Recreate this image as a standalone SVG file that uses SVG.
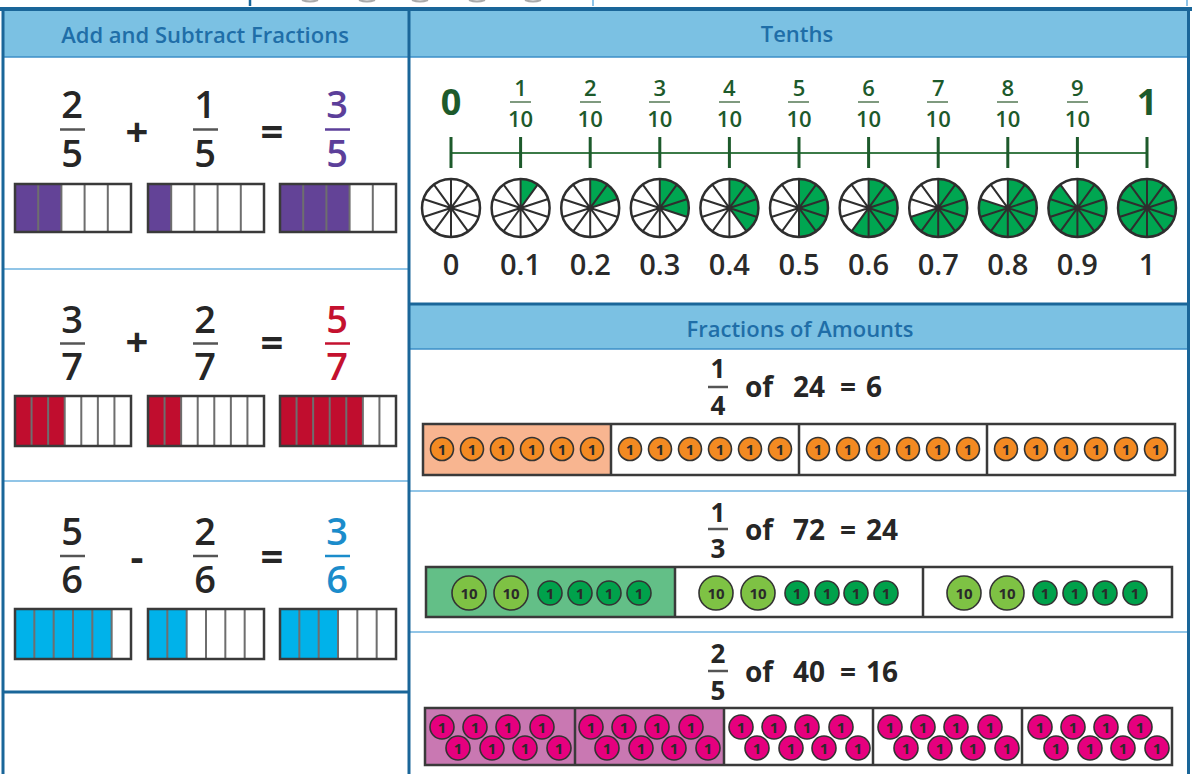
<svg xmlns="http://www.w3.org/2000/svg" xmlns:xlink="http://www.w3.org/1999/xlink" width="1192" height="774" viewBox="0 0 1192 774">
<style>
text{font-family:"Open Sans","Noto Sans","Liberation Sans",sans-serif}
.hd{fill:#7bc1e3}
.hdt{font-size:22px;font-weight:600;fill:#1f6ea8;text-anchor:middle}
.big{font-size:38px;font-weight:600;fill:#262626;text-anchor:middle}
.op{font-size:40px;font-weight:700;fill:#262626;text-anchor:middle}
.fb{stroke:#555;stroke-width:2.5}
.bo{fill:none;stroke:#3a3a3a;stroke-width:2.5}
.dv{fill:none;stroke:#6e6e6e;stroke-width:2}
.tf{font-size:22px;font-weight:600;fill:#1d5a2b;text-anchor:middle}
.tb{font-size:36px;font-weight:700;fill:#1d5a2b;text-anchor:middle}
.dec{font-size:29px;font-weight:600;fill:#2a2a2a;text-anchor:middle}
.af{font-size:26px;font-weight:700;fill:#262626;text-anchor:middle}
.at{font-size:28px;font-weight:700;fill:#262626}
.ct{font-size:15px;font-weight:700;fill:#2a2a2a;text-anchor:middle}
.cs{stroke:#333;stroke-width:1.6}
</style>
<defs>
<g id="wheel" fill="none" stroke="#2e2e2e" stroke-width="2">
<path d="M0,-29V29M17.05,-23.46L-17.05,23.46M27.58,-8.96L-27.58,8.96M27.58,8.96L-27.58,-8.96M17.05,23.46L-17.05,-23.46"/>
<circle r="29" stroke-width="2.5"/>
<circle r="2" fill="#2e2e2e" stroke="none"/>
</g>
<g id="co"><circle r="11.5" fill="#f38a22" class="cs"/><text y="5.5" class="ct">1</text></g>
<g id="cg"><circle r="12" fill="#00a14b" class="cs"/><text y="5.5" class="ct">1</text></g>
<g id="ct"><circle r="17" fill="#7ec244" class="cs"/><text y="5.5" class="ct">10</text></g>
<g id="cp"><circle r="12" fill="#e6007e" class="cs"/><text y="5.5" class="ct">1</text></g>
</defs>
<rect width="1192" height="774" fill="#fff"/>

<!-- top strip remnants -->
<g id="top-strip">
<path d="M250,0V6" stroke="#1a6699" stroke-width="2.5"/>
<path d="M593,0V6" stroke="#6ab0e0" stroke-width="1.5"/>
<path d="M1187,0V6" stroke="#6ab0e0" stroke-width="1.5"/>
<g fill="none" stroke="#aaa" stroke-width="2">
<path d="M302,0Q310,3 318,0M359,0Q367,3 375,0M412,0Q420,3 428,0M469,0Q477,3 485,0M525,0Q533,3 541,0"/>
</g>
<rect x="0" y="7" width="1192" height="4" fill="#1a6699"/>
</g>

<!-- panel frames -->
<g id="frames">
<rect class="hd" x="4" y="11" width="404" height="46"/>
<rect class="hd" x="410" y="11" width="777" height="46"/>
<rect class="hd" x="410" y="305" width="777" height="44"/>
<path d="M4,57H408M410,57H1187M410,349H1187" stroke="#3d8fc8" stroke-width="1.5"/>
<path d="M4,269H408M4,481H408M410,491H1187M410,632H1187" stroke="#6db3e0" stroke-width="1.5"/>
<path d="M4,692H408M410,304H1187" stroke="#1a6699" stroke-width="3"/>
<path d="M3,9V774M409,9V774M1188.5,9V774" stroke="#1a6699" stroke-width="3"/>
</g>

<!-- Add and Subtract Fractions -->
<g id="add-subtract">
<text class="hdt" x="205" y="43">Add and Subtract Fractions</text>

<g id="row-2-5">
<text class="big" x="72" y="118">2</text><path class="fb" d="M60,129.5H85"/><text class="big" x="72" y="167">5</text>
<text class="op" x="137" y="146">+</text>
<text class="big" x="205" y="118">1</text><path class="fb" d="M193,129.5H218"/><text class="big" x="205" y="167">5</text>
<text class="op" x="272" y="146">=</text>
<text class="big" x="337" y="118" style="fill:#5c3f9a">3</text><path d="M325,129.5H350" stroke="#5c3f9a" stroke-width="2.5"/><text class="big" x="337" y="167" style="fill:#5c3f9a">5</text>
<rect x="15" y="184" width="46.4" height="48" fill="#634397"/>
<path class="dv" d="M38.2,184V232M61.4,184V232M84.6,184V232M107.8,184V232"/>
<rect class="bo" x="15" y="184" width="116" height="48"/>
<rect x="148" y="184" width="23.2" height="48" fill="#634397"/>
<path class="dv" d="M171.2,184V232M194.4,184V232M217.6,184V232M240.8,184V232"/>
<rect class="bo" x="148" y="184" width="116" height="48"/>
<rect x="280" y="184" width="69.6" height="48" fill="#634397"/>
<path class="dv" d="M303.2,184V232M326.4,184V232M349.6,184V232M372.8,184V232"/>
<rect class="bo" x="280" y="184" width="116" height="48"/>
</g>

<g id="row-3-7">
<text class="big" x="72" y="333">3</text><path class="fb" d="M60,343.5H85"/><text class="big" x="72" y="380">7</text>
<text class="op" x="137" y="356">+</text>
<text class="big" x="205" y="333">2</text><path class="fb" d="M193,343.5H218"/><text class="big" x="205" y="380">7</text>
<text class="op" x="272" y="357">=</text>
<text class="big" x="337" y="333" style="fill:#c4112f">5</text><path d="M325,343.5H350" stroke="#c4112f" stroke-width="2.5"/><text class="big" x="337" y="380" style="fill:#c4112f">7</text>
<rect x="15" y="396" width="49.71" height="50" fill="#c00d2e"/>
<path class="dv" d="M31.57,396V446M48.14,396V446M64.71,396V446M81.29,396V446M97.86,396V446M114.43,396V446"/>
<rect class="bo" x="15" y="396" width="116" height="50"/>
<rect x="148" y="396" width="33.14" height="50" fill="#c00d2e"/>
<path class="dv" d="M164.57,396V446M181.14,396V446M197.71,396V446M214.29,396V446M230.86,396V446M247.43,396V446"/>
<rect class="bo" x="148" y="396" width="116" height="50"/>
<rect x="280" y="396" width="82.86" height="50" fill="#c00d2e"/>
<path class="dv" d="M296.57,396V446M313.14,396V446M329.71,396V446M346.29,396V446M362.86,396V446M379.43,396V446"/>
<rect class="bo" x="280" y="396" width="116" height="50"/>
</g>

<g id="row-5-6">
<text class="big" x="72" y="545">5</text><path class="fb" d="M60,556H85"/><text class="big" x="72" y="593">6</text>
<text class="op" x="137" y="571">-</text>
<text class="big" x="205" y="545">2</text><path class="fb" d="M193,556H218"/><text class="big" x="205" y="593">6</text>
<text class="op" x="272" y="571">=</text>
<text class="big" x="337" y="545" style="fill:#1b8ccb">3</text><path d="M325,556H350" stroke="#1b8ccb" stroke-width="2.5"/><text class="big" x="337" y="593" style="fill:#1b8ccb">6</text>
<rect x="15" y="609" width="96.67" height="50" fill="#00b2ea"/>
<path class="dv" d="M34.33,609V659M53.67,609V659M73,609V659M92.33,609V659M111.67,609V659"/>
<rect class="bo" x="15" y="609" width="116" height="50"/>
<rect x="148" y="609" width="38.67" height="50" fill="#00b2ea"/>
<path class="dv" d="M167.33,609V659M186.67,609V659M206,609V659M225.33,609V659M244.67,609V659"/>
<rect class="bo" x="148" y="609" width="116" height="50"/>
<rect x="280" y="609" width="58" height="50" fill="#00b2ea"/>
<path class="dv" d="M299.33,609V659M318.67,609V659M338,609V659M357.33,609V659M376.67,609V659"/>
<rect class="bo" x="280" y="609" width="116" height="50"/>
</g>
</g>

<!-- Tenths -->
<g id="tenths">
<text class="hdt" x="797" y="42">Tenths</text>
<g id="numberline" stroke="#1d5a2b">
<path d="M451,153H1147" stroke="#3b7a47" stroke-width="2"/>
<path d="M451,137V168M520.6,137V168M590.2,137V168M659.8,137V168M729.4,137V168M799,137V168M868.6,137V168M938.2,137V168M1007.8,137V168M1077.4,137V168M1147,137V168" stroke-width="3"/>
</g>
<g id="tenth-labels">
<text class="tb" x="451" y="115">0</text>
<text class="tb" x="1147" y="115">1</text>
<g stroke="#7f9a7f" stroke-width="2">
<path d="M510,102H531M580,102H601M649,102H670M719,102H740M788,102H809M858,102H879M927,102H948M997,102H1018M1067,102H1088"/>
</g>
<text class="tf" x="520.6" y="96">1</text><text class="tf" x="520.6" y="127">10</text>
<text class="tf" x="590.2" y="96">2</text><text class="tf" x="590.2" y="127">10</text>
<text class="tf" x="659.8" y="96">3</text><text class="tf" x="659.8" y="127">10</text>
<text class="tf" x="729.4" y="96">4</text><text class="tf" x="729.4" y="127">10</text>
<text class="tf" x="799" y="96">5</text><text class="tf" x="799" y="127">10</text>
<text class="tf" x="868.6" y="96">6</text><text class="tf" x="868.6" y="127">10</text>
<text class="tf" x="938.2" y="96">7</text><text class="tf" x="938.2" y="127">10</text>
<text class="tf" x="1007.8" y="96">8</text><text class="tf" x="1007.8" y="127">10</text>
<text class="tf" x="1077.4" y="96">9</text><text class="tf" x="1077.4" y="127">10</text>
</g>
<g id="wheels" fill="#00a651">
<g transform="translate(451,208)"><use href="#wheel"/></g>
<g transform="translate(520.6,208)"><path d="M0,0V-29A29,29 0 0,1 17.05,-23.46Z"/><use href="#wheel"/></g>
<g transform="translate(590.2,208)"><path d="M0,0V-29A29,29 0 0,1 27.58,-8.96Z"/><use href="#wheel"/></g>
<g transform="translate(659.8,208)"><path d="M0,0V-29A29,29 0 0,1 27.58,8.96Z"/><use href="#wheel"/></g>
<g transform="translate(729.4,208)"><path d="M0,0V-29A29,29 0 0,1 17.05,23.46Z"/><use href="#wheel"/></g>
<g transform="translate(799,208)"><path d="M0,0V-29A29,29 0 0,1 0,29Z"/><use href="#wheel"/></g>
<g transform="translate(868.6,208)"><path d="M0,0V-29A29,29 0 1,1 -17.05,23.46Z"/><use href="#wheel"/></g>
<g transform="translate(938.2,208)"><path d="M0,0V-29A29,29 0 1,1 -27.58,8.96Z"/><use href="#wheel"/></g>
<g transform="translate(1007.8,208)"><path d="M0,0V-29A29,29 0 1,1 -27.58,-8.96Z"/><use href="#wheel"/></g>
<g transform="translate(1077.4,208)"><path d="M0,0V-29A29,29 0 1,1 -17.05,-23.46Z"/><use href="#wheel"/></g>
<g transform="translate(1147,208)"><circle r="29"/><use href="#wheel"/></g>
</g>
<g id="decimals">
<text class="dec" x="451" y="275">0</text>
<text class="dec" x="520.6" y="275">0.1</text>
<text class="dec" x="590.2" y="275">0.2</text>
<text class="dec" x="659.8" y="275">0.3</text>
<text class="dec" x="729.4" y="275">0.4</text>
<text class="dec" x="799" y="275">0.5</text>
<text class="dec" x="868.6" y="275">0.6</text>
<text class="dec" x="938.2" y="275">0.7</text>
<text class="dec" x="1007.8" y="275">0.8</text>
<text class="dec" x="1077.4" y="275">0.9</text>
<text class="dec" x="1147" y="275">1</text>
</g>
</g>

<!-- Fractions of Amounts -->
<g id="amounts">
<text class="hdt" x="800" y="337">Fractions of Amounts</text>

<g id="quarter-24">
<text class="af" x="718" y="378">1</text><path class="fb" d="M708,387H728"/><text class="af" x="718" y="415">4</text>
<text class="at" x="745" y="397">of</text>
<text class="at" y="397"><tspan x="793">24</tspan><tspan x="840">=</tspan><tspan x="866">6</tspan></text>
<rect x="423" y="424" width="188" height="51" fill="#f8b590"/>
<path class="bo" d="M611,424V475M799,424V475M987,424V475"/>
<rect class="bo" x="423" y="424" width="752" height="51"/>
<g>
<use href="#co" x="442" y="449"/><use href="#co" x="472" y="449"/><use href="#co" x="502" y="449"/><use href="#co" x="532" y="449"/><use href="#co" x="562" y="449"/><use href="#co" x="592" y="449"/>
<use href="#co" x="630" y="449"/><use href="#co" x="660" y="449"/><use href="#co" x="690" y="449"/><use href="#co" x="720" y="449"/><use href="#co" x="750" y="449"/><use href="#co" x="780" y="449"/>
<use href="#co" x="818" y="449"/><use href="#co" x="848" y="449"/><use href="#co" x="878" y="449"/><use href="#co" x="908" y="449"/><use href="#co" x="938" y="449"/><use href="#co" x="968" y="449"/>
<use href="#co" x="1006" y="449"/><use href="#co" x="1036" y="449"/><use href="#co" x="1066" y="449"/><use href="#co" x="1096" y="449"/><use href="#co" x="1126" y="449"/><use href="#co" x="1156" y="449"/>
</g>
</g>

<g id="third-72">
<text class="af" x="718" y="522">1</text><path class="fb" d="M708,529H728"/><text class="af" x="718" y="558">3</text>
<text class="at" x="745" y="540">of</text>
<text class="at" y="540"><tspan x="793">72</tspan><tspan x="840">=</tspan><tspan x="866">24</tspan></text>
<rect x="426" y="567" width="249" height="50" fill="#63bf87"/>
<path class="bo" d="M675,567V617M923,567V617"/>
<rect class="bo" x="426" y="567" width="746" height="50"/>
<g>
<use href="#ct" x="469" y="593"/><use href="#ct" x="511" y="593"/><use href="#cg" x="550" y="593"/><use href="#cg" x="580" y="593"/><use href="#cg" x="609" y="593"/><use href="#cg" x="639" y="593"/>
<use href="#ct" x="716" y="593"/><use href="#ct" x="758" y="593"/><use href="#cg" x="797" y="593"/><use href="#cg" x="827" y="593"/><use href="#cg" x="856" y="593"/><use href="#cg" x="886" y="593"/>
<use href="#ct" x="964" y="593"/><use href="#ct" x="1007" y="593"/><use href="#cg" x="1045" y="593"/><use href="#cg" x="1075" y="593"/><use href="#cg" x="1105" y="593"/><use href="#cg" x="1135" y="593"/>
</g>
</g>

<g id="twofifths-40">
<text class="af" x="718" y="663">2</text><path class="fb" d="M708,671H728"/><text class="af" x="718" y="700">5</text>
<text class="at" x="745" y="682">of</text>
<text class="at" y="682"><tspan x="793">40</tspan><tspan x="840">=</tspan><tspan x="866">16</tspan></text>
<rect x="425" y="708" width="299" height="57" fill="#c978b2"/>
<path class="bo" d="M575,708V765M724,708V765M873,708V765M1022,708V765"/>
<rect class="bo" x="425" y="708" width="747" height="57"/>
<g>
<use href="#cp" x="442" y="727"/><use href="#cp" x="475" y="727"/><use href="#cp" x="508" y="727"/><use href="#cp" x="542" y="727"/>
<use href="#cp" x="458" y="748"/><use href="#cp" x="492" y="748"/><use href="#cp" x="525" y="748"/><use href="#cp" x="559" y="748"/>
<use href="#cp" x="591" y="727"/><use href="#cp" x="624" y="727"/><use href="#cp" x="657" y="727"/><use href="#cp" x="691" y="727"/>
<use href="#cp" x="607" y="748"/><use href="#cp" x="641" y="748"/><use href="#cp" x="674" y="748"/><use href="#cp" x="708" y="748"/>
<use href="#cp" x="741" y="727"/><use href="#cp" x="774" y="727"/><use href="#cp" x="807" y="727"/><use href="#cp" x="841" y="727"/>
<use href="#cp" x="757" y="748"/><use href="#cp" x="791" y="748"/><use href="#cp" x="824" y="748"/><use href="#cp" x="858" y="748"/>
<use href="#cp" x="890" y="727"/><use href="#cp" x="923" y="727"/><use href="#cp" x="956" y="727"/><use href="#cp" x="990" y="727"/>
<use href="#cp" x="906" y="748"/><use href="#cp" x="940" y="748"/><use href="#cp" x="973" y="748"/><use href="#cp" x="1007" y="748"/>
<use href="#cp" x="1040" y="727"/><use href="#cp" x="1073" y="727"/><use href="#cp" x="1106" y="727"/><use href="#cp" x="1140" y="727"/>
<use href="#cp" x="1056" y="748"/><use href="#cp" x="1090" y="748"/><use href="#cp" x="1123" y="748"/><use href="#cp" x="1157" y="748"/>
</g>
</g>
</g>
</svg>
